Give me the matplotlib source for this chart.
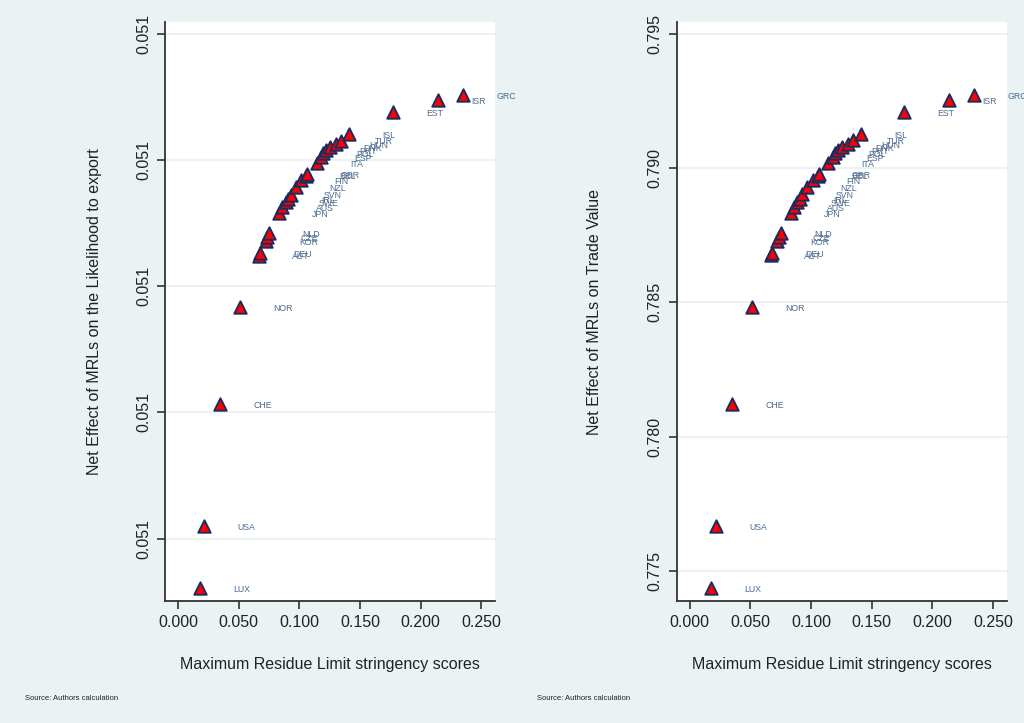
import numpy as np
import matplotlib.pyplot as plt

plt.rcParams['font.family'] = ['Liberation Sans', 'DejaVu Sans']

# paises y puntajes de rigurosidad (MRL)
paises = ['LUX', 'USA', 'CHE', 'NOR', 'AUT', 'DEU', 'KOR', 'CZE', 'NLD', 'JPN',
          'AUS', 'SWE', 'IRL', 'SVN', 'NZL', 'FIN', 'BEL', 'GBR', 'ITA', 'ESP',
          'POL', 'PRT', 'DNK', 'HUN', 'TUR', 'ISL', 'EST', 'ISR', 'GRC']
puntaje = [0.0178, 0.0217, 0.0349, 0.0513, 0.0668, 0.0676, 0.0722, 0.0736, 0.0750, 0.0831,
           0.0860, 0.0887, 0.0909, 0.0928, 0.0969, 0.1016, 0.1056, 0.1062, 0.1142, 0.1181,
           0.1198, 0.1222, 0.1255, 0.1305, 0.1346, 0.1409, 0.1769, 0.2140, 0.2346]

# efecto neto sobre la probabilidad de exportar
efecto_prob = [0.0509607, 0.0510101, 0.0511067, 0.0511836, 0.0512244, 0.0512264, 0.0512359,
               0.0512391, 0.0512422, 0.0512581, 0.0512628, 0.0512668, 0.0512692, 0.0512727,
               0.0512787, 0.0512842, 0.0512878, 0.0512890, 0.0512977, 0.0513025, 0.0513056,
               0.0513080, 0.0513104, 0.0513128, 0.0513155, 0.0513207, 0.0513379, 0.0513476,
               0.0513516]

# efecto neto sobre el valor comerciado
efecto_valor = [0.77436, 0.77668, 0.78122, 0.78483, 0.78675, 0.78684, 0.78729, 0.78743,
                0.78758, 0.78833, 0.78855, 0.78874, 0.78885, 0.78902, 0.78930, 0.78956,
                0.78972, 0.78978, 0.79019, 0.79041, 0.79056, 0.79067, 0.79079, 0.79090,
                0.79103, 0.79127, 0.79208, 0.79254, 0.79272]

ticks_x = [0.0, 0.05, 0.10, 0.15, 0.20, 0.25]
ticks_prob = [0.0510, 0.0511, 0.0512, 0.0513, 0.0514]
ticks_valor = [0.775, 0.780, 0.785, 0.790, 0.795]

fondo = '#eaf2f3'
azul = '#4b6a8e'


#* Funcion para dibujar un panel
def panel(ax, y, yticks, ylim, titulo_y, pos_titulo):
     ax.set_facecolor('white')
     for lado in ['top', 'right']:
          ax.spines[lado].set_visible(False)
     for lado in ['left', 'bottom']:
          ax.spines[lado].set_color('#333333')
          ax.spines[lado].set_linewidth(1.3)

     ax.scatter(puntaje, y, marker='^', s=80, color='red', edgecolors='#1c2c5e',
                linewidths=1.4, zorder=3)
     for nombre, xi, yi in zip(paises, puntaje, y):
          ax.annotate(nombre, (xi, yi), xytext=(24, -0.8), textcoords='offset points',
                      ha='left', va='center', fontsize=6.3, color=azul,
                      annotation_clip=False)

     ax.set_xlim(-0.0107, 0.2612)
     ax.set_ylim(*ylim)
     ax.set_xticks(ticks_x)
     ax.set_xticklabels([f'{t:.3f}' for t in ticks_x])
     ax.set_yticks(yticks)
     ax.set_yticklabels([f'{t:.3f}' for t in yticks], rotation=90, va='center')
     ax.tick_params(axis='both', length=6, width=1.2, color='#333333',
                    labelsize=11.5, pad=4, labelcolor='#222222')
     ax.yaxis.grid(True, color=fondo, linewidth=1.5)
     ax.set_axisbelow(True)

     ax.set_xlabel('Maximum Residue Limit stringency scores', fontsize=11.5, color='#222222')
     ax.xaxis.set_label_coords(0.5, -0.097)
     ax.set_ylabel(titulo_y, fontsize=11.5, color='#222222')
     ax.yaxis.set_label_coords(pos_titulo, 0.5)


fig = plt.figure(figsize=(10.24, 7.23), dpi=100, facecolor=fondo)

ax1 = fig.add_axes([0.1611, 0.1687, 0.3223, 0.8008])
panel(ax1, efecto_prob, ticks_prob, (0.0509506, 0.0514094),
      'Net Effect of MRLs on the Likelihood to export', -0.192)

ax2 = fig.add_axes([0.6608, 0.1687, 0.3223, 0.8008])
panel(ax2, efecto_valor, ticks_valor, (0.773883, 0.795439),
      'Net Effect of MRLs on Trade Value', -0.227)

fig.text(0.0244, 0.032, 'Source: Authors calculation', fontsize=5.5, color='#222222')
fig.text(0.5245, 0.032, 'Source: Authors calculation', fontsize=5.5, color='#222222')

fig.savefig('out.png', dpi=100, facecolor=fondo)
